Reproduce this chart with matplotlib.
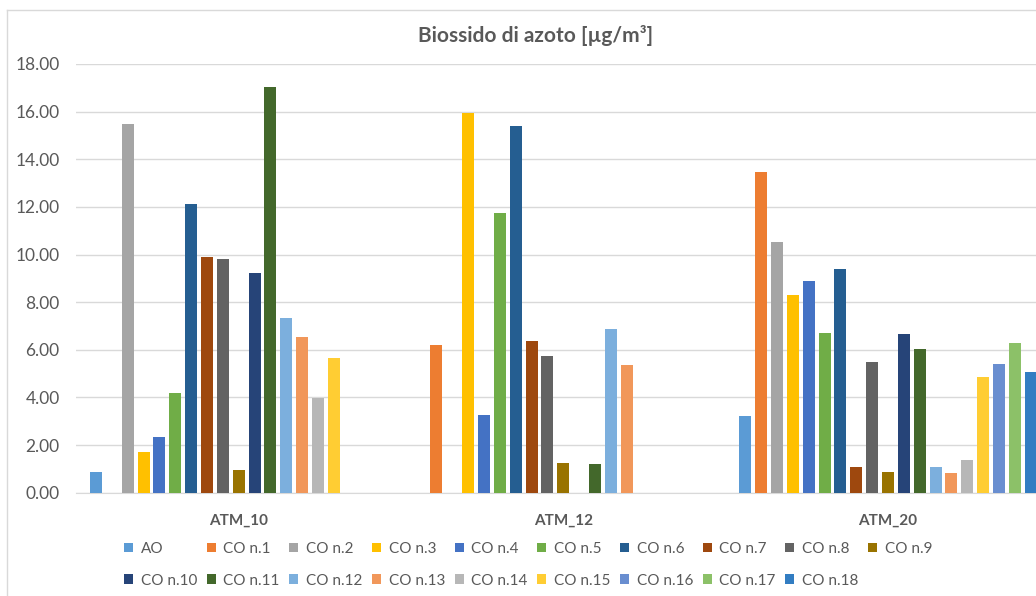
import matplotlib
matplotlib.use('Agg')
import matplotlib.pyplot as plt
from matplotlib.lines import Line2D
from matplotlib.patches import Patch
import numpy as np

plt.rcParams['font.family'] = ['Lato', 'DejaVu Sans']

# stazioni e serie
categorie = ['ATM_10', 'ATM_12', 'ATM_20']
serie = ['AO'] + ['CO n.%d' % i for i in range(1, 19)]

atm_10 = [0.86, 0, 15.46, 1.72, 2.33, 4.18, 12.13, 9.89, 9.82, 0.97,
          9.24, 17.02, 7.35, 6.53, 3.99, 5.65, 0, 0, 0]
atm_12 = [0, 6.19, 0, 15.94, 3.26, 11.76, 15.41, 6.37, 5.74, 1.23,
          0, 1.19, 6.86, 5.37, 0, 0, 0, 0, 0]
atm_20 = [3.22, 13.47, 10.52, 8.28, 8.90, 6.71, 9.39, 1.09, 5.50, 0.86,
          6.65, 6.02, 1.09, 0.84, 1.39, 4.87, 5.39, 6.30, 5.06]

colori = ['#5B9BD5', '#ED7D31', '#A5A5A5', '#FFC000', '#4472C4', '#70AD47',
          '#255E91', '#9E480E', '#636363', '#997300', '#264478', '#43682B',
          '#7CAFDD', '#F1975A', '#B7B7B7', '#FFCD33', '#698ED0', '#8CC168',
          '#327DC2']

valori = np.array([atm_10, atm_12, atm_20])
grigio = '#595959'

fig = plt.figure(figsize=(10.36, 5.96), dpi=100)
ax = fig.add_axes([76.4 / 1036, 103.3 / 596, 973.9 / 1036, 428.7 / 596])

x = np.arange(len(categorie))
passo = 0.04885
larg = 0.037
for i, nome in enumerate(serie):
    ax.bar(x + (i - 9) * passo, valori[:, i], width=larg, color=colori[i],
           label=nome, zorder=3)

ax.set_xlim(-0.5, 2.5)
ax.set_ylim(0, 18)
ax.set_yticks(np.arange(0, 19, 2))
ax.set_yticklabels(['%.2f' % v for v in np.arange(0, 19, 2)])
ax.set_xticks(x)
ax.set_xticklabels(categorie, fontweight='bold')
ax.yaxis.grid(True, color='#D9D9D9', linewidth=1, zorder=0)
for s in ['top', 'right', 'left']:
    ax.spines[s].set_visible(False)
ax.spines['bottom'].set_color('#D9D9D9')
ax.tick_params(axis='both', length=0, colors=grigio, labelsize=12.5)
ax.tick_params(axis='x', pad=15, labelsize=11)
ax.tick_params(axis='y', pad=12)

fig.text(536 / 1036, 1 - 35 / 596, 'Biossido di azoto [µg/m³]', ha='center',
         va='center', fontsize=15, fontweight='bold', color=grigio)

# legenda in righe: matplotlib riempie per colonne, quindi riordino
ordine = []
for i in range(9):
    ordine += [i, i + 10]
ordine.append(9)
maniglie = [Patch(facecolor=colori[i], edgecolor='none') for i in ordine]
etichette = [serie[i] for i in ordine]
leg = fig.legend(maniglie, etichette, ncol=10, loc='upper left',
                 bbox_to_anchor=(124 / 1036, 1 - 542 / 596), frameon=False,
                 fontsize=11, handlelength=0.6, handleheight=0.6,
                 handletextpad=0.5, columnspacing=0.62, labelspacing=1.15,
                 borderpad=0, borderaxespad=0)
for t in leg.get_texts():
    t.set_color(grigio)

# bordo dell'area grafico
fig.add_artist(Line2D([7 / 1036, 7 / 1036], [0, 1 - 10 / 596],
                      color='#D9D9D9', linewidth=1))
fig.add_artist(Line2D([7 / 1036, 1], [1 - 10 / 596, 1 - 10 / 596],
                      color='#D9D9D9', linewidth=1))

fig.savefig('out.png', dpi=100)
